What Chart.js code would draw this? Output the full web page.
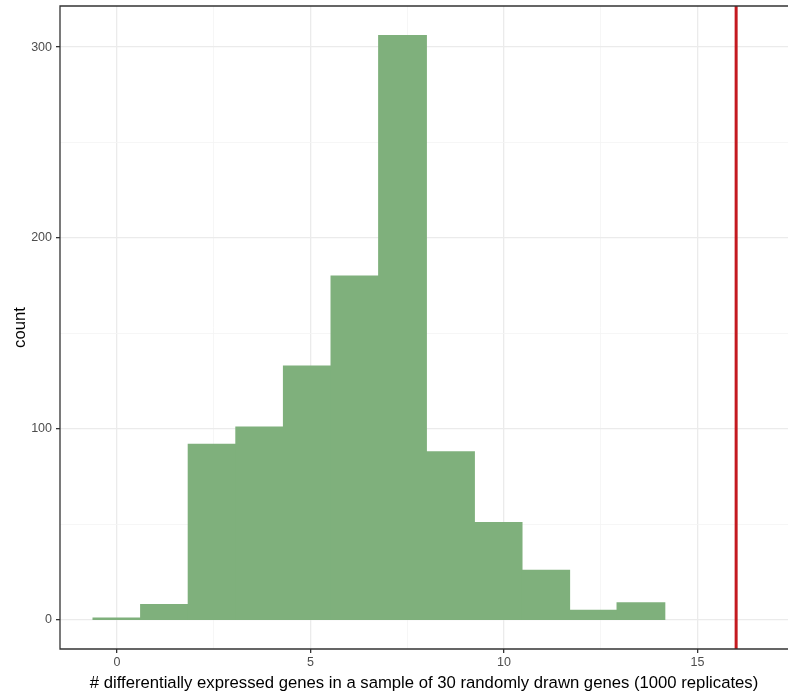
<!DOCTYPE html>
<html><head><meta charset="utf-8">
<script src="https://cdn.jsdelivr.net/npm/chart.js@4/dist/chart.umd.min.js"></script>
<style>html,body{margin:0;padding:0;background:#fff}#wrap{width:788px;height:693px;position:relative}</style>
</head><body><div id="wrap"><canvas id="c" width="788" height="693"></canvas></div>
<script>
// ---- data ----
const binCenters = [0, 1.23, 2.46, 3.69, 4.92, 6.15, 7.38, 8.62, 9.85, 11.08, 12.31, 13.54];
const counts = [1, 8, 92, 101, 133, 180, 306, 88, 51, 26, 5, 9];
const observedValue = 16;
const xTickValues = [0, 2.5, 5, 7.5, 10, 12.5, 15];
const xMajorTicks = [0, 5, 10, 15];
const yTickValues = [0, 50, 100, 150, 200, 250, 300];
const yMajorTicks = [0, 100, 200, 300];
const xTitle = "# differentially expressed genes in a sample of 30 randomly drawn genes (1000 replicates)";
const yTitle = "count";
const xRange = [-1.47, 17.34];
const yRange = [-15.2, 321.5];

const barData = binCenters.map((x, i) => ({x: x, y: counts[i]}));
const lineData = [{x: observedValue, y: yRange[0]}, {x: observedValue, y: yRange[1]}];

const FONT = "'Liberation Sans', Arial, sans-serif";
const isMajorX = v => xMajorTicks.includes(v);
const isMajorY = v => yMajorTicks.includes(v);

const panelBorder = {
  id: 'panelBorder',
  afterDatasetsDraw(chart) {
    const a = chart.chartArea, ctx = chart.ctx;
    ctx.save();
    ctx.strokeStyle = '#333333';
    ctx.lineWidth = 1.3;
    ctx.beginPath();
    ctx.moveTo(a.right + 5, a.top);
    ctx.lineTo(a.left, a.top);
    ctx.lineTo(a.left, a.bottom);
    ctx.lineTo(a.right + 5, a.bottom);
    ctx.stroke();
    ctx.restore();
  }
};

new Chart(document.getElementById('c'), {
  type: 'bar',
  data: {
    datasets: [
      {
        type: 'line', data: lineData, borderColor: '#C41A20', borderWidth: 3,
        pointRadius: 0, order: 0, clip: 0
      },
      {
        type: 'bar', data: barData, backgroundColor: '#7FB07C', borderWidth: 0,
        inflateAmount: 0.6,
        barPercentage: 1, categoryPercentage: 1, order: 1
      }
    ]
  },
  options: {
    responsive: false,
    devicePixelRatio: 1,
    animation: false,
    layout: {padding: {top: 6, right: 0, left: 0, bottom: 0}},
    plugins: {legend: {display: false}, tooltip: {enabled: false}},
    scales: {
      x: {
        type: 'linear', min: xRange[0], max: xRange[1], offset: false,
        afterBuildTicks: s => { s.ticks = xTickValues.map(v => ({value: v})); },
        afterFit: s => { s.height = 44; s.paddingLeft = 0; s.paddingRight = 0; },
        border: {display: false},
        grid: {
          offset: false,
          color: c => c.tick && isMajorX(c.tick.value) ? '#EBEBEB' : '#F4F4F4',
          lineWidth: c => c.tick && isMajorX(c.tick.value) ? 1.3 : 0.8,
          tickColor: c => c.tick && isMajorX(c.tick.value) ? '#333333' : 'rgba(0,0,0,0)',
          tickLength: 4, tickWidth: 1.3
        },
        ticks: {
          autoSkip: false, maxRotation: 0, padding: 2,
          color: '#4D4D4D', font: {family: FONT, size: 12.5},
          callback: v => isMajorX(v) ? String(v) : ''
        },
        title: {
          display: true, text: xTitle, color: '#000000',
          font: {family: FONT, size: 16.7}, padding: {top: 0, bottom: 0}
        }
      },
      y: {
        type: 'linear', min: yRange[0], max: yRange[1],
        afterBuildTicks: s => { s.ticks = yTickValues.map(v => ({value: v})); },
        afterFit: s => { s.width = 60; s.paddingTop = 0; s.paddingBottom = 0; },
        border: {display: false},
        grid: {
          color: c => c.tick && isMajorY(c.tick.value) ? '#EBEBEB' : '#F4F4F4',
          lineWidth: c => c.tick && isMajorY(c.tick.value) ? 1.3 : 0.8,
          tickColor: c => c.tick && isMajorY(c.tick.value) ? '#333333' : 'rgba(0,0,0,0)',
          tickLength: 4, tickWidth: 1.3
        },
        ticks: {
          autoSkip: false, padding: 4,
          color: '#4D4D4D', font: {family: FONT, size: 12.5},
          callback: v => isMajorY(v) ? String(v) : ''
        },
        title: {
          display: true, text: yTitle, color: '#000000',
          font: {family: FONT, size: 16.7}, padding: {top: 10, bottom: 0}
        }
      }
    }
  },
  plugins: [panelBorder]
});
</script>
</body></html>
